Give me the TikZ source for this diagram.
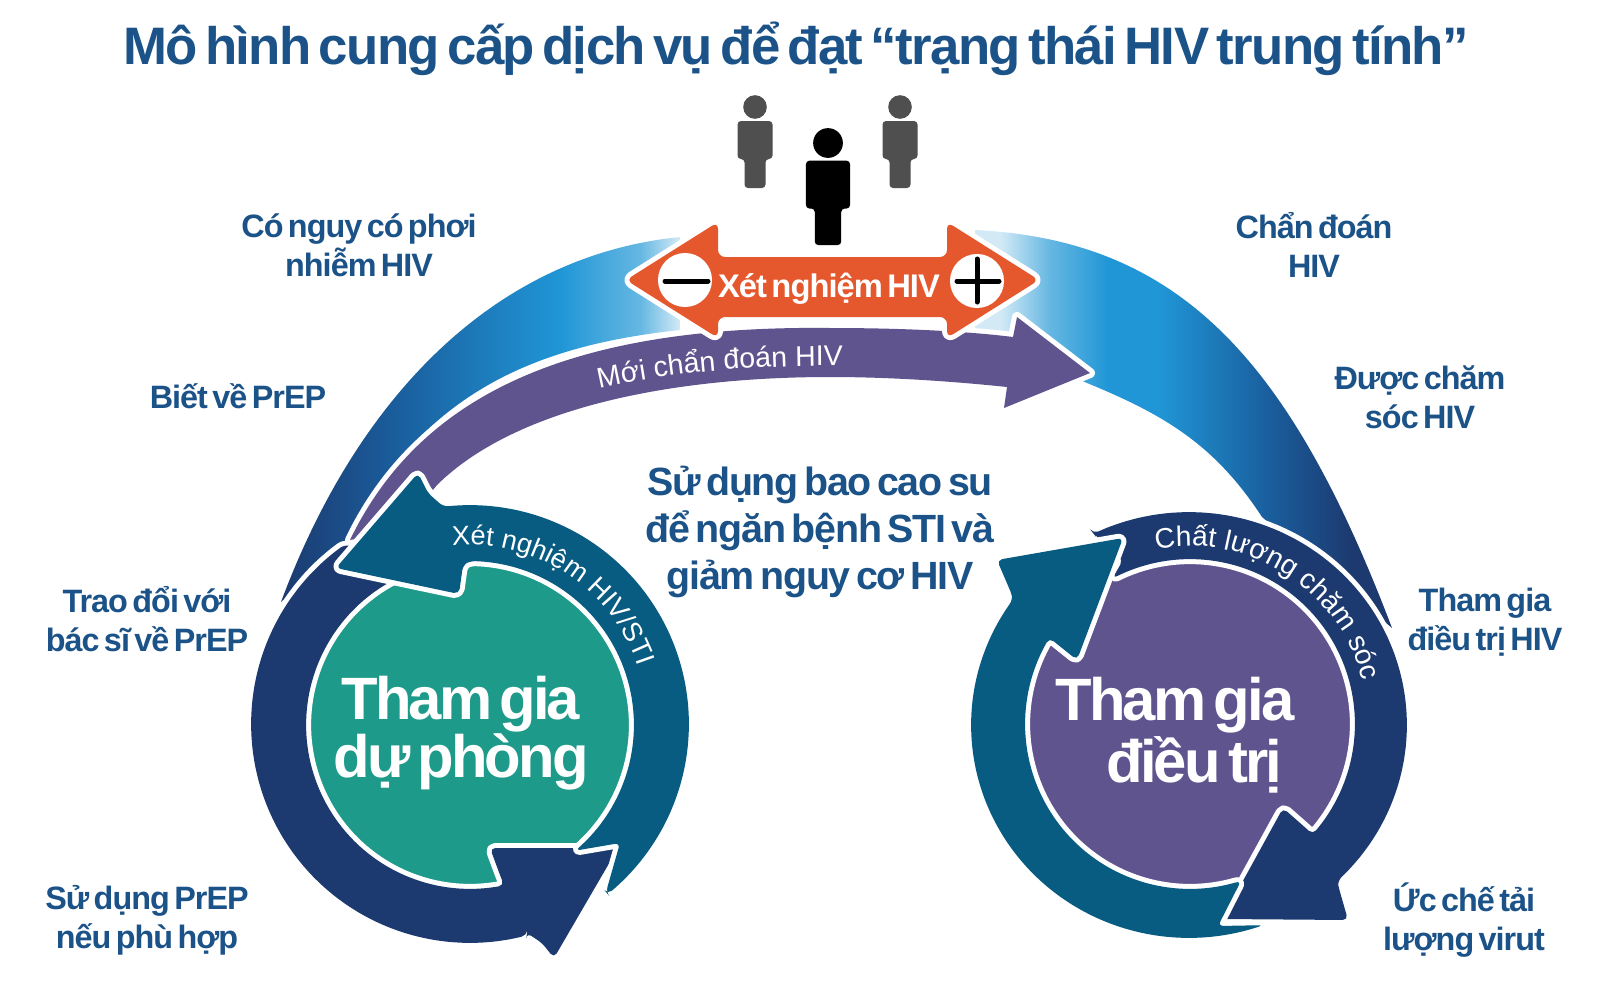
\documentclass[tikz,border=0pt]{standalone}
\usepackage{fontspec}
\setmainfont[LetterSpace=-3,WordSpace=0.55]{Liberation Sans}
\newfontfamily\plainfont{Liberation Sans}
\usetikzlibrary{decorations.text}
\definecolor{headblue}{HTML}{1B5288}
\definecolor{ringnavy}{HTML}{1C3A70}
\definecolor{ringteal}{HTML}{085C82}
\definecolor{prevgreen}{HTML}{1E9A8A}
\definecolor{txpurple}{HTML}{5F548E}
\definecolor{testorange}{HTML}{E5582D}
\definecolor{archbright}{HTML}{2096D6}
\definecolor{archmid}{HTML}{1A5F9E}
\definecolor{archsoft}{HTML}{65B7E2}
\definecolor{archpale}{HTML}{D3EAF6}
\definecolor{persongray}{HTML}{4F4F4F}
\pgfdeclarehorizontalshading{archleft}{100bp}{color(0bp)=(ringnavy); color(25bp)=(ringnavy); color(40bp)=(archmid); color(60bp)=(archbright); color(70bp)=(archsoft); color(75bp)=(archpale); color(100bp)=(archpale)}
\pgfdeclarehorizontalshading{archright}{100bp}{color(0bp)=(archpale); color(28bp)=(archpale); color(34bp)=(archsoft); color(41bp)=(archbright); color(47bp)=(archbright); color(60bp)=(archmid); color(70bp)=(ringnavy); color(100bp)=(ringnavy)}
\tikzset{
	cutout/.style={preaction={draw=white,line width=0.1cm,line join=round}},
	sidelabel/.style={text=headblue,align=center,font=\fontsize{9.2}{11.1}\selectfont\bfseries},
	bigcap/.style={text=white,align=center,font=\fontsize{17}{16.5}\selectfont\bfseries\addfontfeature{LetterSpace=-5}},
	signdisk/.style={circle,fill=white,minimum size=0.54cm,inner sep=0pt},
	signbar/.style={line width=0.05cm,line cap=round},
	person/.pic={
		\fill[pic actions] (0,0) circle[radius=0.118cm];
		\fill[pic actions,rounded corners=1pt] (-17.5,14) -- (17.5,14) -- (17.5,52) -- (10.5,52) -- (10.5,81) -- (-10.5,81) -- (-10.5,52) -- (-17.5,52) -- cycle;
	}
}
\newcommand{\ringfont}{\plainfont\fontsize{7.7}{9}\selectfont\color{white}}
\begin{document}
\begin{tikzpicture}[x=0.01cm,y=-0.01cm]
	\useasboundingbox (0,0) rectangle (1600,1000);
	\node[text=headblue,font=\fontsize{15}{16}\selectfont\bfseries] (title) at (796,49) {Mô hình cung cấp dịch vụ để đạt “trạng thái HIV trung tính”};
	\shade[shading=archleft] (281,602) .. controls (360,390) and (500,255) .. (680,237) -- (680,330) .. controls (540,345) and (420,390) .. (345,545) -- cycle;
	\shade[shading=archright] (975,230) .. controls (1180,240) and (1290,360) .. (1392,628) -- (1262,517) .. controls (1215,445) and (1165,415) .. (1087,383) -- (975,335) -- cycle;
	\fill[txpurple,cutout] (350,540) .. controls (420,395) and (570,325) .. (830,328) .. controls (900,328) and (965,331) .. (1013,337) -- (1017,317) -- (1090,373) -- (1004,408) -- (1007,387) .. controls (940,380) and (880,377) .. (830,377) .. controls (670,377) and (515,408) .. (437,485) -- (400,530) -- cycle;
	\path[decorate,decoration={text along path,text align=center,text={|\ringfont\fontsize{8.1}{9}\selectfont|Mới chẩn đoán HIV}}] (600,388) .. controls (670,372) and (760,365) .. (842,366);
	\fill[testorange,cutout,rounded corners=2pt] (626,280) -- (718,222) -- (718,257) -- (947,257) -- (947,222) -- (1039,280) -- (947,338) -- (947,317) -- (718,317) -- (718,338) -- cycle;
	\node[signdisk] (minus) at (685,280) {};
	\node[signdisk] (plus) at (977,281) {};
	\draw[signbar] (665,281) -- (708,281);
	\draw[signbar] (957,281) -- (999,281);
	\draw[signbar] (977,259) -- (977,302);
	\node[text=white,font=\fontsize{9.3}{10}\selectfont\bfseries] (test) at (829,289) {Xét nghiệm HIV};
	\pic[fill=persongray] at (755,107) {person};
	\pic[fill=persongray] at (900,107) {person};
	\pic[fill=black,scale=1.26] at (828,143) {person};
	\node[sidelabel] (risk) at (359,245) {Có nguy có phơi\\nhiễm HIV};
	\node[sidelabel] (diag) at (1314,245) {Chẩn đoán\\HIV};
	\node[sidelabel] (know) at (238,396) {Biết về PrEP};
	\node[sidelabel] (care) at (1420,397) {Được chăm\\sóc HIV};
	\node[sidelabel] (talk) at (147,619) {Trao đổi với\\bác sĩ về PrEP};
	\node[sidelabel] (join) at (1485,622) {Tham gia\\điều trị HIV};
	\node[sidelabel] (use) at (147,920) {Sử dụng PrEP\\nếu phù hợp};
	\node[sidelabel] (supp) at (1464,920) {Ức chế tải\\lượng virut};
	\node[text=headblue,align=center,font=\fontsize{11.2}{13.4}\selectfont\bfseries] (condom) at (820,532) {Sử dụng bao cao su\\để ngăn bệnh STI và\\giảm nguy cơ HIV};
	\node[circle,fill=prevgreen,minimum size=3.28cm,inner sep=0pt] (prevdisk) at (470,725) {};
	\fill[ringnavy,cutout,rounded corners=1.5pt] (490,848) -- (618,848) -- (554,958) -- (542,943) -- (527,933) -- plot[domain=75:235,samples=40] ({470+219*cos(\x)},{724+219*sin(\x)}) -- (420,560) -- plot[domain=246:78,samples=40] ({470+164*cos(\x)},{725+164*sin(\x)}) -- (500,875) -- cycle;
	\fill[ringteal,cutout,rounded corners=1.5pt] (418,473) -- (336,568) -- (459,594) -- (463,565) -- plot[domain=-90:50,samples=40] ({470+164*cos(\x)},{725+164*sin(\x)}) -- (620,843) -- (606,892) -- plot[domain=51:-97,samples=40] ({470+219*cos(\x)},{724+219*sin(\x)}) -- (428,493) -- cycle;
	\path[decorate,decoration={text along path,text align=center,text={|\ringfont|Xét nghiệm HIV/STI}}] plot[domain=-100:-14,samples=40] ({470+177*cos(\x)},{722+177*sin(\x)});
	\node[bigcap] (prev) at (461,733) {Tham gia\\dự phòng};
	\node[circle,fill=txpurple,minimum size=3.3cm,inner sep=0pt] (txdisk) at (1190,724) {};
	\fill[ringnavy,cutout,rounded corners=1.5pt] (1283,808) -- (1222,919) -- (1348,920) -- (1338,885) -- plot[domain=47:-116,samples=40] ({1189+218*cos(\x)},{725+213*sin(\x)}) -- (1093,533) -- (1123,560) -- plot[domain=-118:42,samples=40] ({1190+165*cos(\x)},{724+165*sin(\x)}) -- (1308,830) -- cycle;
	\fill[ringteal,cutout,rounded corners=1.5pt] (1123,538) -- (997,560) -- (1012,595) -- plot[domain=216:70,samples=40] ({1189+218*cos(\x)},{725+213*sin(\x)}) -- (1218,926) -- plot[domain=72:211.5,samples=40] ({1190+165*cos(\x)},{724+165*sin(\x)}) -- (1077,660) -- cycle;
	\path[decorate,decoration={text along path,text align=center,text={|\ringfont\fontsize{8}{9}\selectfont|Chất lượng chăm sóc}}] plot[domain=-102:-13,samples=40] ({1190+178*cos(\x)},{724+178*sin(\x)});
	\node[bigcap] (tx) at (1175,735) {Tham gia\\\hspace{11pt}điều trị};
\end{tikzpicture}
\end{document}
